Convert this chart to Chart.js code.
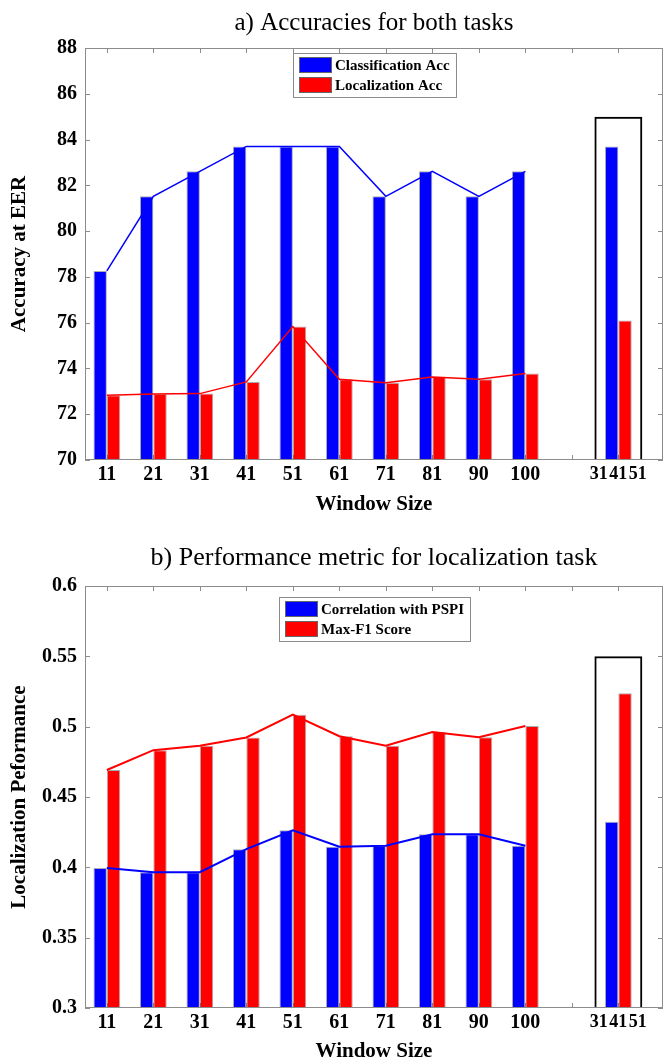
<!DOCTYPE html>
<html>
<head>
<meta charset="utf-8">
<script src="https://cdn.jsdelivr.net/npm/chart.js@4.4.1/dist/chart.umd.min.js"></script>
<style>
  html, body { margin: 0; padding: 0; background: #fff; }
  canvas { display: block; }
</style>
</head>
<body>
<canvas id="accChart" width="663" height="520"></canvas>
<canvas id="perfChart" width="663" height="543"></canvas>
<script>
// Window sizes on the main axis, and the multi-scale combination shown in the framed group
const windowSizes = ['11', '21', '31', '41', '51', '61', '71', '81', '90', '100'];
const comboSizes = ['31', '41', '51'];

// a) Accuracy at EER (%)
const classificationAcc = [78.26, 81.52, 82.61, 83.70, 83.70, 83.70, 81.52, 82.61, 81.52, 82.61];
const localizationAcc   = [72.83, 72.88, 72.90, 73.41, 75.83, 73.53, 73.37, 73.63, 73.53, 73.78];
const comboClassificationAcc = 83.70;
const comboLocalizationAcc = 76.09;
const comboAccFrameTop = 85;
const accTicks = [70, 72, 74, 76, 78, 80, 82, 84, 86, 88];

// b) Localization performance
const correlationPSPI = [0.3995, 0.3965, 0.3965, 0.4129, 0.4263, 0.4146, 0.4153, 0.4235, 0.4235, 0.4153];
const maxF1Score      = [0.4692, 0.4833, 0.4864, 0.4923, 0.5085, 0.4932, 0.4864, 0.4962, 0.4925, 0.5005];
const comboCorrelationPSPI = 0.4324;
const comboMaxF1Score = 0.5237;
const comboPerfFrameTop = 0.55;
const perfTicks = [0.3, 0.35, 0.4, 0.45, 0.5, 0.55, 0.6];

const BLUE = '#0000ff';
const RED = '#ff0000';
const SERIF = "'Liberation Serif', 'Times New Roman', serif";

// x positions: one slot per window size, one empty slot, then the combined group
const comboPos = windowSizes.length + 2;
const xTickLabels = [...windowSizes, '', comboSizes.join('\u200A')];

const toPoints = arr => arr.map((v, i) => ({ x: i + 1, y: v }));

// MATLAB-style frame with inward tick marks
const frameTicks = {
  id: 'frameTicks',
  beforeDatasetsDraw(chart) {
    const { ctx, chartArea: a, scales: { x, y } } = chart;
    const L = 5;
    ctx.save();
    ctx.strokeStyle = '#8c8c8c';
    ctx.lineWidth = 1;
    ctx.beginPath();
    x.ticks.forEach(t => {
      const px = Math.round(x.getPixelForValue(t.value)) + 0.5;
      ctx.moveTo(px, a.top); ctx.lineTo(px, a.top + L);
      ctx.moveTo(px, a.bottom); ctx.lineTo(px, a.bottom - L);
    });
    y.ticks.forEach(t => {
      const py = Math.round(y.getPixelForValue(t.value)) + 0.5;
      ctx.moveTo(a.left, py); ctx.lineTo(a.left + L, py);
      ctx.moveTo(a.right, py); ctx.lineTo(a.right - L, py);
    });
    ctx.stroke();
    ctx.restore();
  },
  afterDatasetsDraw(chart) {
    const { ctx, chartArea: a } = chart;
    ctx.save();
    ctx.strokeStyle = '#8c8c8c';
    ctx.lineWidth = 1;
    ctx.strokeRect(Math.round(a.left) + 0.5, Math.round(a.top) + 0.5,
                   Math.round(a.width) - 1, Math.round(a.height) - 1);
    ctx.restore();
  }
};

// Boxed legend placed inside the plot, centred horizontally
const boxLegend = {
  id: 'boxLegend',
  afterDraw(chart, args, opts) {
    const { ctx, chartArea: a } = chart;
    const items = opts.items.map(i => chart.data.datasets[i]);
    ctx.save();
    ctx.font = `bold ${opts.fontSize}px ${SERIF}`;
    const textW = Math.max(...items.map(d => ctx.measureText(d.label).width));
    const pad = 6, sw = 33, sh = 16, gap = 3, rowH = 20;
    const w = Math.round(pad + sw + gap + textW + pad);
    const h = 4 + rowH * items.length;
    const left = Math.round(a.left + a.width / 2 - w / 2 + (opts.dx || 0));
    const top = Math.round(a.top + opts.dy);
    ctx.fillStyle = '#fff';
    ctx.fillRect(left, top, w, h);
    ctx.strokeStyle = '#8c8c8c';
    ctx.lineWidth = 1;
    ctx.strokeRect(left + 0.5, top + 0.5, w, h);
    items.forEach((d, i) => {
      const sy = top + 4 + i * rowH;
      ctx.fillStyle = d.backgroundColor;
      ctx.fillRect(left + pad, sy, sw, sh);
      ctx.strokeStyle = '#666';
      ctx.strokeRect(left + pad + 0.5, sy + 0.5, sw - 1, sh - 1);
      ctx.fillStyle = '#000';
      ctx.textBaseline = 'middle';
      ctx.textAlign = 'left';
      ctx.fillText(d.label, left + pad + sw + gap, sy + sh / 2 + 1);
    });
    ctx.restore();
  }
};

function makeChart(id, cfg) {
  const yTickValues = cfg.yTicks;
  const barStyle = {
    borderWidth: 1,
    borderColor: 'rgba(70,70,70,0.45)',
    borderSkipped: 'start',
    categoryPercentage: 0.575,
    barPercentage: 1,
    base: cfg.yMin,
    order: 2
  };
  return new Chart(document.getElementById(id), {
    type: 'bar',
    data: {
      datasets: [
        {
          label: cfg.names[0],
          data: [...toPoints(cfg.blue), { x: comboPos, y: cfg.comboBlue }],
          backgroundColor: BLUE,
          ...barStyle
        },
        {
          label: cfg.names[1],
          data: [...toPoints(cfg.red), { x: comboPos, y: cfg.comboRed }],
          backgroundColor: RED,
          ...barStyle
        },
        {
          label: 'frame',
          data: [{ x: comboPos, y: cfg.comboFrame }],
          backgroundColor: 'rgba(0,0,0,0)',
          borderColor: '#000',
          borderWidth: 2,
          grouped: false,
          categoryPercentage: 1.03,
          barPercentage: 1,
          base: cfg.yMin,
          order: 3
        },
        {
          type: 'line',
          label: cfg.names[0] + ' trend',
          data: toPoints(cfg.blue),
          borderColor: BLUE,
          borderWidth: cfg.lineWidth,
          pointRadius: 0,
          tension: 0,
          order: 0
        },
        {
          type: 'line',
          label: cfg.names[1] + ' trend',
          data: toPoints(cfg.red),
          borderColor: RED,
          borderWidth: cfg.lineWidth,
          pointRadius: 0,
          tension: 0,
          order: 0
        }
      ]
    },
    options: {
      responsive: false,
      animation: false,
      events: [],
      layout: { padding: { left: 0, right: -2, top: 0, bottom: 0 } },
      plugins: {
        legend: { display: false },
        tooltip: { enabled: false },
        title: {
          display: true,
          text: cfg.title,
          fullSize: false,
          color: '#000',
          font: { family: SERIF, size: cfg.titleSize, weight: 'normal', lineHeight: 1 },
          padding: { top: cfg.titlePadTop, bottom: cfg.titlePadBottom }
        },
        boxLegend: { items: [0, 1], fontSize: 15, dy: cfg.legendDy }
      },
      scales: {
        x: {
          type: 'linear',
          offset: false,
          min: 0.53,
          max: 12.96,
          grid: { display: false, drawTicks: false, offset: false },
          border: { display: false },
          afterBuildTicks: scale => { scale.ticks = xTickLabels.map((_, i) => ({ value: i + 1 })); },
          ticks: {
            autoSkip: false,
            maxRotation: 0,
            padding: 5,
            color: '#000',
            font: ctx => ({
              family: SERIF,
              size: ctx.index === xTickLabels.length - 1 ? 18 : 20,
              weight: 'bold',
              lineHeight: 1
            }),
            callback: (v, i) => xTickLabels[i]
          },
          title: {
            display: true,
            text: 'Window Size',
            color: '#000',
            font: { family: SERIF, size: 21, weight: 'bold', lineHeight: 1 },
            padding: { top: cfg.xTitlePadTop, bottom: cfg.xTitlePadBottom }
          }
        },
        y: {
          min: cfg.yMin,
          max: cfg.yMax,
          grid: { display: false, drawTicks: false },
          border: { display: false },
          afterBuildTicks: scale => { scale.ticks = yTickValues.map(v => ({ value: v })); },
          afterFit: scale => { scale.width = 85; },
          ticks: {
            padding: 8,
            color: '#000',
            font: { family: SERIF, size: 20, weight: 'bold', lineHeight: 1 },
            callback: v => String(+v.toFixed(2))
          },
          title: {
            display: true,
            text: cfg.yTitle,
            color: '#000',
            font: { family: SERIF, size: 21, weight: 'bold', lineHeight: 1 },
            padding: { top: 9.5, bottom: 0 }
          }
        }
      }
    },
    plugins: [frameTicks, boxLegend]
  });
}

makeChart('accChart', {
  title: 'a) Accuracies for both tasks',
  yTitle: 'Accuracy at EER',
  names: ['Classification Acc', 'Localization Acc'],
  blue: classificationAcc,
  red: localizationAcc,
  comboBlue: comboClassificationAcc,
  comboRed: comboLocalizationAcc,
  comboFrame: comboAccFrameTop,
  yMin: accTicks[0],
  yMax: accTicks[accTicks.length - 1],
  yTicks: accTicks,
  lineWidth: 1.5,
  titleSize: 25,
  titlePadTop: 10.5,
  titlePadBottom: 12.5,
  xTitlePadTop: 4.5,
  xTitlePadBottom: 4.5,
  legendDy: 5
});

makeChart('perfChart', {
  title: 'b) Performance metric for localization task',
  yTitle: 'Localization Peformance',
  names: ['Correlation with PSPI', 'Max-F1 Score'],
  blue: correlationPSPI,
  red: maxF1Score,
  comboBlue: comboCorrelationPSPI,
  comboRed: comboMaxF1Score,
  comboFrame: comboPerfFrameTop,
  yMin: perfTicks[0],
  yMax: perfTicks[perfTicks.length - 1],
  yTicks: perfTicks,
  lineWidth: 2,
  titleSize: 26,
  titlePadTop: 25,
  titlePadBottom: 15,
  xTitlePadTop: 3.5,
  xTitlePadBottom: 0.5,
  legendDy: 11
});
</script>
</body>
</html>
